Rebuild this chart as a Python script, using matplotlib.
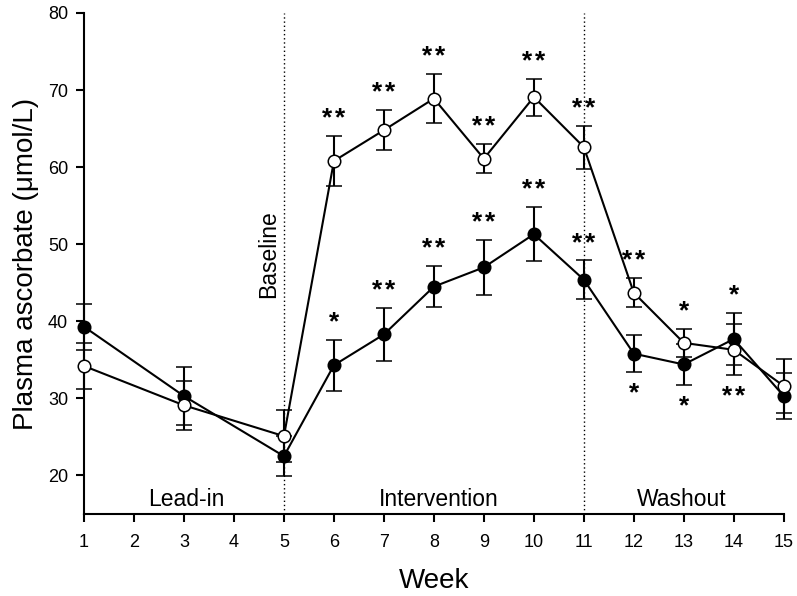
import numpy as np
import matplotlib
matplotlib.use('Agg')
import matplotlib.pyplot as plt

plt.rcParams['font.family'] = ['Liberation Sans', 'DejaVu Sans']

# Plasma ascorbate means and SEM
weeks = [1, 3, 5, 6, 7, 8, 9, 10, 11, 12, 13, 14, 15]
filled_mean = [39.3, 30.3, 22.5, 34.3, 38.3, 44.5, 47.0, 51.3, 45.4, 35.8, 34.4, 37.7, 30.3]
filled_err = [3.0, 3.8, 2.6, 3.3, 3.4, 2.7, 3.6, 3.5, 2.5, 2.4, 2.6, 3.4, 3.0]
open_mean = [34.2, 29.1, 25.1, 60.8, 64.8, 68.9, 61.1, 69.1, 62.6, 43.7, 37.2, 36.3, 31.6]
open_err = [3.0, 3.2, 3.4, 3.3, 2.6, 3.2, 1.9, 2.4, 2.8, 1.9, 1.8, 3.3, 3.5]

# significance marks, 'a' = above the bar, 'b' = below
filled_sig = ['', '', '', '*', '**', '**', '**', '**', '**', '*', '*', '*', '']
filled_side = ['', '', '', 'a', 'a', 'a', 'a', 'a', 'a', 'b', 'b', 'a', '']
open_sig = ['', '', '', '**', '**', '**', '**', '**', '**', '**', '*', '**', '']
open_side = ['', '', '', 'a', 'a', 'a', 'a', 'a', 'a', 'a', 'a', 'b', '']

phases = ['Lead-in', 'Intervention', 'Washout']
phase_x = [3.05, 8.1, 12.95]
phase_lines = [5, 11]

fig = plt.figure(figsize=(7.97, 5.96), dpi=100)
ax = fig.add_axes([0.1054, 0.1376, 0.878, 0.8406])

for xl in phase_lines:
    ax.axvline(xl, color='black', lw=1.0, ls=(0, (1, 2)), zorder=1)

ax.errorbar(weeks, filled_mean, yerr=filled_err, color='black', lw=1.5,
            elinewidth=1.5, capsize=5.5, capthick=1.5, marker='o', ms=9,
            mfc='black', mec='black', mew=1.1, clip_on=False, zorder=3)
ax.errorbar(weeks, open_mean, yerr=open_err, color='black', lw=1.5,
            elinewidth=1.5, capsize=5.5, capthick=1.5, marker='o', ms=9,
            mfc='white', mec='black', mew=1.1, clip_on=False, zorder=4)


def add_stars(means, errs, sigs, sides):
    for w, m, e, s, side in zip(weeks, means, errs, sigs, sides):
        if not s:
            continue
        if side == 'a':
            y, dy = m + e, 7.5
        else:
            y, dy = m - e, -20.5
        n = len(s)
        for i in range(n):
            dx = (i - (n - 1) / 2) * 9.5
            ax.annotate('*', xy=(w, y), xytext=(dx, dy), textcoords='offset points',
                        ha='center', va='baseline', fontsize=19, fontweight='bold')


add_stars(filled_mean, filled_err, filled_sig, filled_side)
add_stars(open_mean, open_err, open_sig, open_side)

for name, px in zip(phases, phase_x):
    ax.text(px, 16.9, name, ha='center', va='center', fontsize=16.5)
ax.text(4.7, 48.7, 'Baseline', rotation=90, ha='center', va='center', fontsize=16.5)

ax.set_xlim(1, 15)
ax.set_ylim(15, 80)
ax.set_xticks(range(1, 16))
ax.set_yticks(range(20, 81, 10))
ax.tick_params(direction='out', length=5.5, width=1.5, labelsize=13)
ax.tick_params(axis='y', pad=6)
ax.tick_params(axis='x', pad=9)
for side in ['top', 'right']:
    ax.spines[side].set_visible(False)
for side in ['left', 'bottom']:
    ax.spines[side].set_linewidth(1.5)

ax.set_xlabel('Week', fontsize=20, labelpad=12.5)
ax.set_ylabel('Plasma ascorbate (\u03bcmol/L)', fontsize=20, labelpad=6.5)

fig.savefig('out.png', dpi=100)
